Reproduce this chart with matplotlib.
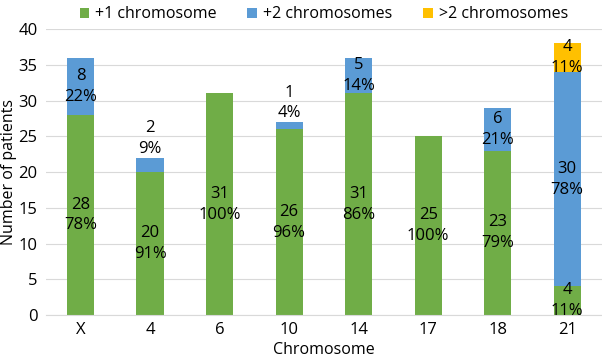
import matplotlib
matplotlib.use("Agg")
import matplotlib.pyplot as plt
import numpy as np

plt.rcParams['font.family'] = ['Open Sans', 'DejaVu Sans']

chromosomes = ['X', '4', '6', '10', '14', '17', '18', '21']
plus1 = [28, 20, 31, 26, 31, 25, 23, 4]
plus2 = [8, 2, 0, 1, 5, 0, 6, 30]
more2 = [0, 0, 0, 0, 0, 0, 0, 4]
# percentages as printed on the chart
plus1_pct = [78, 91, 100, 96, 86, 100, 79, 11]
plus2_pct = [22, 9, 0, 4, 14, 0, 21, 78]
more2_pct = [0, 0, 0, 0, 0, 0, 0, 11]

green = '#70AD47'
blue = '#5B9BD5'
yellow = '#FFC000'

fig = plt.figure(figsize=(6.02, 3.6), dpi=100)
ax = fig.add_axes([0.076, 0.125, 0.924, 0.794])

x = np.arange(len(chromosomes))
p1 = np.array(plus1)
p2 = np.array(plus2)
p3 = np.array(more2)
tot = p1 + p2 + p3

w = 0.39
ax.bar(x, p1, w, color=green, label='+1 chromosome', zorder=2)
ax.bar(x, p2, w, bottom=p1, color=blue, label='+2 chromosomes', zorder=2)
ax.bar(x, p3, w, bottom=p1 + p2, color=yellow, label='>2 chromosomes', zorder=2)

lab_kw = dict(ha='center', fontsize=12, linespacing=1.4, zorder=3)

for i in range(len(x)):
    ax.text(x[i], p1[i] / 2.0, '%d\n%d%%' % (p1[i], plus1_pct[i]), va='center', **lab_kw)
    if p2[i] > 0:
        if p2[i] < 3:
            # small segment, label sits above the bar
            ax.text(x[i], tot[i] + 0.1, '%d\n%d%%' % (p2[i], plus2_pct[i]), va='bottom', **lab_kw)
        else:
            ax.text(x[i], p1[i] + p2[i] / 2.0, '%d\n%d%%' % (p2[i], plus2_pct[i]), va='center', **lab_kw)
    if p3[i] > 0:
        ax.text(x[i], p1[i] + p2[i] + p3[i] / 2.0, '%d\n%d%%' % (p3[i], more2_pct[i]), va='center', **lab_kw)

ax.set_xlim(-0.5, 7.5)
ax.set_ylim(0, 40)
ax.set_yticks(range(0, 41, 5))
ax.set_xticks(x)
ax.set_xticklabels(chromosomes)
ax.tick_params(axis='both', length=0, labelsize=12)
ax.tick_params(axis='x', pad=5)
ax.tick_params(axis='y', pad=6)
ax.grid(axis='y', color='#D9D9D9', linewidth=0.8, zorder=0)
for s in ['top', 'right', 'left']:
    ax.spines[s].set_visible(False)
ax.spines['bottom'].set_color('#D9D9D9')

ax.set_xlabel('Chromosome', fontsize=11.5)
ax.xaxis.set_label_coords(0.5, -0.093)
ax.set_ylabel('Number of patients', fontsize=11.5)
ax.yaxis.set_label_coords(-0.052, 0.5)

ax.legend(loc='upper center', bbox_to_anchor=(0.5, 1.13), ncol=3, frameon=False,
          fontsize=11.5, handlelength=0.6, handleheight=0.6, columnspacing=1.9, handletextpad=0.4)

fig.savefig('out.png', dpi=100)
